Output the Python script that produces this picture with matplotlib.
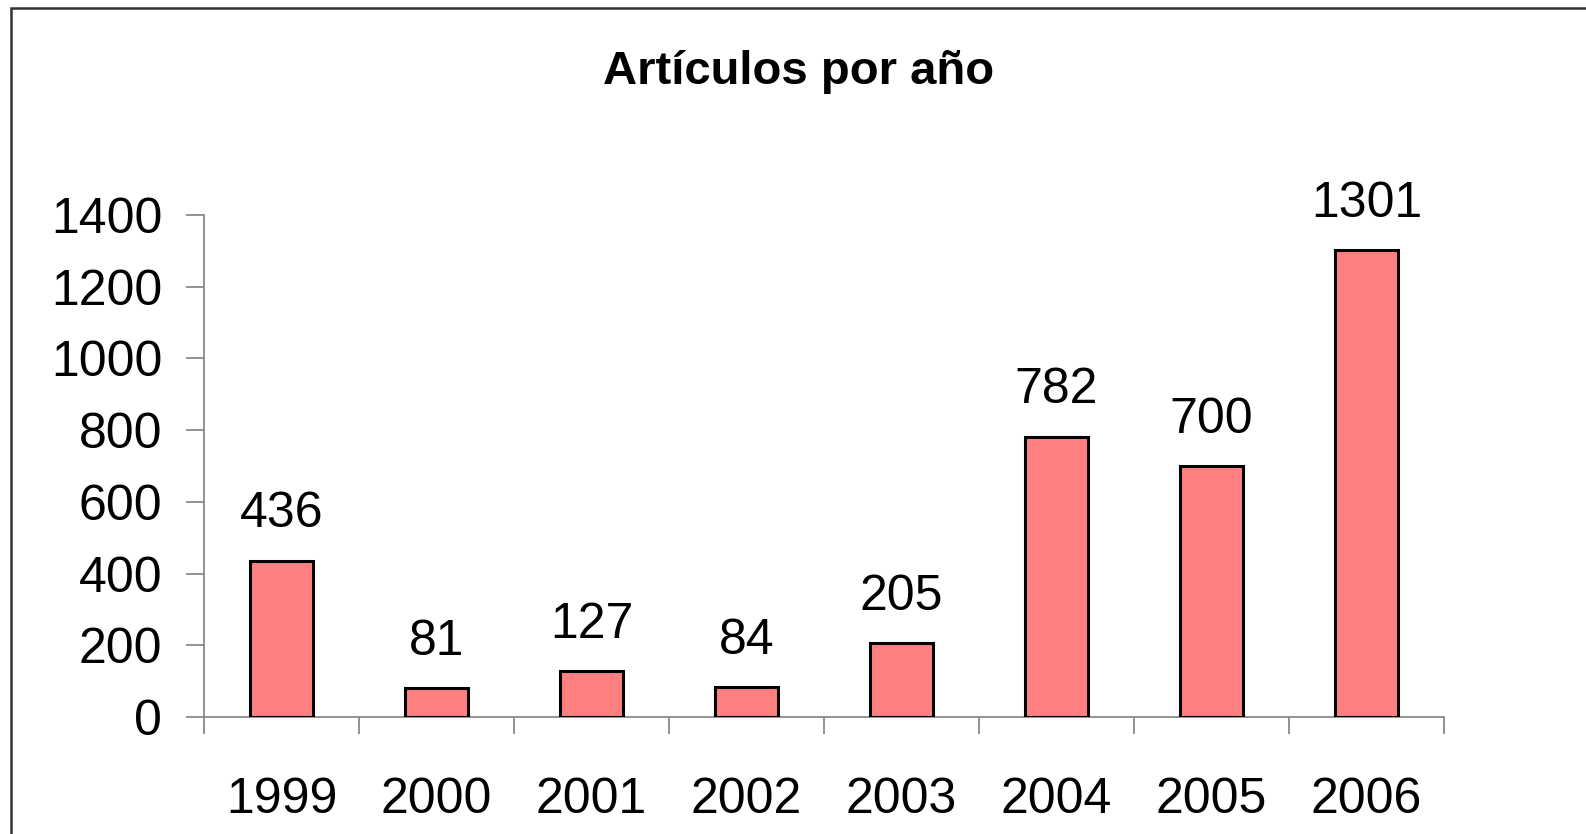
import matplotlib
matplotlib.use("Agg")
import matplotlib.pyplot as plt
import matplotlib.patches as mpatches
import numpy as np

years = ['1999', '2000', '2001', '2002', '2003', '2004', '2005', '2006']
articles = [436, 81, 127, 84, 205, 782, 700, 1301]
yticks = [0, 200, 400, 600, 800, 1000, 1200, 1400]

plt.rcParams['font.family'] = ['Liberation Sans', 'DejaVu Sans']

fig = plt.figure(figsize=(15.86, 8.34), dpi=100)
ax = fig.add_axes([204 / 1586, 1 - 717 / 834, 1240 / 1586, 502 / 834])

# outer chart frame (runs off the right and bottom edges)
frame = mpatches.Rectangle((11 / 1586, -0.1), 1.2, 1 - 8 / 834 + 0.1,
                           transform=fig.transFigure, fill=False,
                           edgecolor='#333333', linewidth=1.8, clip_on=False)
fig.patches.append(frame)

x = np.arange(len(years))
ax.bar(x, articles, width=0.41, color='#FF8080', edgecolor='black', linewidth=2.2, zorder=3)

for xi, v in zip(x, articles):
    ax.annotate(str(v), (xi, v), xytext=(0, 24), textcoords='offset points',
                ha='center', va='baseline', fontsize=36)

ax.set_xlim(-0.5, len(years) - 0.5)
ax.set_ylim(0, 1400)
ax.set_yticks(yticks)
ax.set_xticks(x)
ax.set_xticklabels(years)
ax.set_xticks(np.arange(len(years) + 1) - 0.5, minor=True)

for s in ['top', 'right']:
    ax.spines[s].set_visible(False)
for s in ['left', 'bottom']:
    ax.spines[s].set_color('#808080')
    ax.spines[s].set_linewidth(1.2)

ax.tick_params(axis='y', length=13, width=1.2, color='#808080', pad=17, labelsize=36)
ax.tick_params(axis='x', which='major', length=0, pad=43, labelsize=36)
ax.tick_params(axis='x', which='minor', length=12, width=1.2, color='#808080')

fig.text(799 / 1586, 1 - 72 / 834, 'Artículos por año', ha='center', va='center',
         fontsize=34, fontweight='bold')

fig.savefig('out.png', dpi=100)
